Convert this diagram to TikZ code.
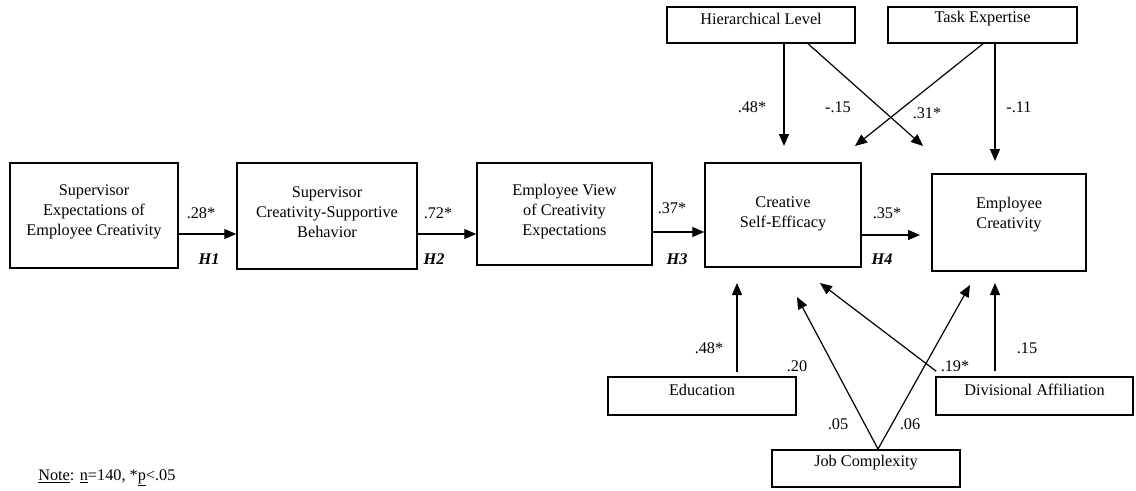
\documentclass[tikz,border=0pt]{standalone}
\usepackage{fontspec}
\setmainfont{Liberation Serif}
\usetikzlibrary{arrows.meta,calc}
\begin{document}
\begin{tikzpicture}[x=0.75pt,y=-0.75pt,
  box/.style={draw, line width=1.1pt, inner sep=0pt},
  txt/.style={align=center, inner sep=0pt, font=\fontsize{12.2}{15}\selectfont},
  arr/.style={line width=0.9pt, -{Triangle[length=9pt,width=7.5pt]}},
  lbl/.style={inner sep=0pt, font=\fontsize{12.2}{14}\selectfont},
  hyp/.style={inner sep=0pt, font=\fontsize{12.2}{14}\selectfont\bfseries\itshape}]
\useasboundingbox (0,0) rectangle (1136,490);

% main boxes
\node[box, minimum width=126pt, minimum height=78.75pt] (b1) at (94,215.5) {};
\node[txt] (b1t) at (94,212) {Supervisor\\Expectations of\\Employee Creativity};
\node[box, minimum width=135pt, minimum height=79.5pt] (b2) at (327,216) {};
\node[txt] (b2t) at (327,212.5) {Supervisor\\Creativity-Supportive\\Behavior};
\node[box, minimum width=131.25pt, minimum height=76.5pt] (b3) at (564.5,214) {};
\node[txt] (b3t) at (564.5,212) {Employee View\\of Creativity\\Expectations};
\node[box, minimum width=117pt, minimum height=78pt] (b4) at (783,215) {};
\node[txt] (b4t) at (783,213.5) {Creative\\Self-Efficacy};
\node[box, minimum width=115.5pt, minimum height=72.75pt] (b5) at (1009,222.5) {};
\node[txt] (b5t) at (1009,214.5) {Employee\\Creativity};

% control boxes
\node[box, minimum width=141pt, minimum height=27pt] (hl) at (761,25) {};
\node[txt] (hlt) at (761,19) {Hierarchical Level};
\node[box, minimum width=141.75pt, minimum height=27pt] (te) at (982.5,25) {};
\node[txt] (tet) at (982.5,19) {Task Expertise};
\node[box, minimum width=141pt, minimum height=28.5pt] (ed) at (702,396) {};
\node[txt] (edt) at (702,390) {Education};
\node[box, minimum width=147.75pt, minimum height=28.5pt] (da) at (1034.5,396) {};
\node[txt] (dat) at (1034.5,390) {Divisional Affiliation};
\node[box, minimum width=141pt, minimum height=27.75pt] (jc) at (866,468.5) {};
\node[txt] (jct) at (866,463) {Job Complexity};

% main path
\draw[arr] (b1.east |- 0,234) coordinate (s1) -- (s1 -| b2.west);
\draw[arr] (b2.east |- 0,234) coordinate (s2) -- (s2 -| b3.west);
\draw[arr] (b3.east |- 0,232) coordinate (s3) -- (s3 -| b4.west);
\coordinate (t4) at (920,235);
\draw[arr] (b4.east |- t4) -- (t4);

\node[lbl] (l1) at (201,213) {.28*};
\node[hyp] (h1) at (209,259) {H1};
\node[lbl] (l2) at (438,213) {.72*};
\node[hyp] (h2) at (434,259) {H2};
\node[lbl] (l3) at (672,208) {.37*};
\node[hyp] (h3) at (677,259) {H3};
\node[lbl] (l4) at (887,213) {.35*};
\node[hyp] (h4) at (882,259) {H4};

% top controls
\coordinate (t5) at (784,146);
\coordinate (t6) at (923,146);
\coordinate (t7) at (855,146);
\coordinate (t8) at (995,161);
\draw[arr] (hl.south -| t5) -- (t5);
\draw[arr] ($(hl.south)+(47,0)$) -- (t6);
\draw[arr] ($(te.south)+(0.5,0)$) -- (t7);
\draw[arr] (te.south -| t8) -- (t8);
\node[lbl] (l5) at (752,107) {.48*};
\node[lbl] (l6) at (838,107) {-.15};
\node[lbl] (l7) at (927,113) {.31*};
\node[lbl] (l8) at (1019,107) {-.11};

% bottom controls
\coordinate (t9) at (737,283);
\draw[arr] ($(ed.north -| t9)+(0,-4)$) -- (t9);
\coordinate (jcs) at (878,449);
\coordinate (t10) at (797,297);
\coordinate (t11) at (970,285);
\draw[arr] (jcs) -- (t10);
\draw[arr] (jcs) -- (t11);
\coordinate (t12) at (820,283);
\coordinate (t13) at (995,283);
\draw[arr] ($(da.north west)+(1,-5)$) -- (t12);
\draw[arr] ($(da.north -| t13)+(0,-5)$) -- (t13);
\node[lbl] (l9) at (709,348) {.48*};
\node[lbl] (l10) at (797,366) {.20};
\node[lbl] (l11) at (838,424) {.05};
\node[lbl] (l12) at (910,424) {.06};
\node[lbl] (l13) at (955,366) {.19*};
\node[lbl] (l14) at (1027,348) {.15};

% note
\node[lbl, anchor=west] (note) at (38,478) {\underline{Note}: \underline{n}=140, *\underline{p}<.05};
\end{tikzpicture}
\end{document}
